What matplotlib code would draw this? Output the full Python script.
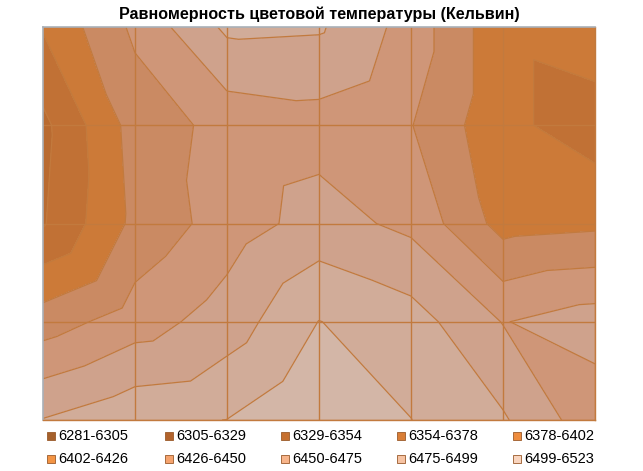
import numpy as np
import matplotlib.pyplot as plt
import matplotlib.tri as mtri
from matplotlib.patches import Rectangle

# Значения цветовой температуры в узлах сетки (строки сверху вниз)
row0 = [6380, 6431, 6480, 6478, 6440, 6384, 6393]
row1 = [6348, 6412, 6434, 6440, 6427, 6384, 6366]
row2 = [6352, 6408, 6437, 6460, 6444, 6393, 6397]
row3 = [6414, 6438, 6462, 6499.5, 6486, 6449, 6462]
row4 = [6476, 6494, 6499.3, 6523, 6499.3, 6478, 6434]

levels = [6281, 6305, 6329, 6354, 6378, 6402, 6426, 6450, 6475, 6499, 6523]
labels = ["6281-6305", "6305-6329", "6329-6354", "6354-6378", "6378-6402",
          "6402-6426", "6426-6450", "6450-6475", "6475-6499", "6499-6523"]

# цвета заливки на графике и цвета маркеров легенды
fill_colors = ["#ad6430", "#b4682f", "#b96b31", "#c17135", "#cc7a38",
               "#ca8a63", "#cf9678", "#cfa28c", "#d1ac99", "#d3b6a7"]
legend_colors = ["#a5602b", "#b2632c", "#c6702f", "#d97e36", "#ee8c3e",
                 "#f39444", "#f5a36e", "#f7b48a", "#f6c3a3", "#f9d5bf"]
line_color = "#c27a3e"

Z = np.array([row0, row1, row2, row3, row4], dtype=float)
nrows, ncols = Z.shape
xx, yy = np.meshgrid(np.arange(ncols), np.arange(nrows))

# каждая ячейка делится диагональю (верх-лево -> низ-право)
tris = []
for r in range(nrows - 1):
    for c in range(ncols - 1):
        tl = r * ncols + c
        tr = tl + 1
        bl = tl + ncols
        br = bl + 1
        tris.append([tl, tr, br])
        tris.append([tl, bl, br])
triang = mtri.Triangulation(xx.ravel(), yy.ravel(), tris)

fig = plt.figure(figsize=(6.43, 4.71), dpi=100)
ax = fig.add_axes([43/643, 1 - 420/471, 552/643, 393/471])

ax.tricontourf(triang, Z.ravel(), levels=levels, colors=fill_colors)
ax.tricontour(triang, Z.ravel(), levels=levels[1:-1], colors=line_color, linewidths=0.9)

for c in range(1, ncols):
    ax.axvline(c, color=line_color, lw=1)
for r in range(1, nrows):
    ax.axhline(r, color=line_color, lw=1)

ax.set_xlim(0, ncols - 1)
ax.set_ylim(nrows - 1, 0)
ax.set_xticks([])
ax.set_yticks([])
for s in ["left", "top"]:
    ax.spines[s].set_color("#a9b0b8")
    ax.spines[s].set_linewidth(1.2)
for s in ["right", "bottom"]:
    ax.spines[s].set_color(line_color)
    ax.spines[s].set_linewidth(1)

fig.text(0.497, 1 - 14/471, "Равномерность цветовой температуры (Кельвин)",
         ha="center", va="center", fontsize=11.6, fontweight="bold",
         family="Liberation Sans")

# легенда 2 x 5
sw_x = [47, 165, 281, 397, 513]
row_y = [436, 459]
for i, lab in enumerate(labels):
    px = sw_x[i % 5]
    py = row_y[i // 5]
    fig.add_artist(Rectangle((px / 643, 1 - (py + 4) / 471), 8 / 643, 8 / 471,
                             transform=fig.transFigure, facecolor=legend_colors[i],
                             edgecolor="#9a5a2a", lw=0.6))
    fig.text((px + 11) / 643, 1 - py / 471, lab, ha="left", va="center",
             fontsize=10.5, family="Liberation Sans")

fig.savefig("out.png", dpi=100)
